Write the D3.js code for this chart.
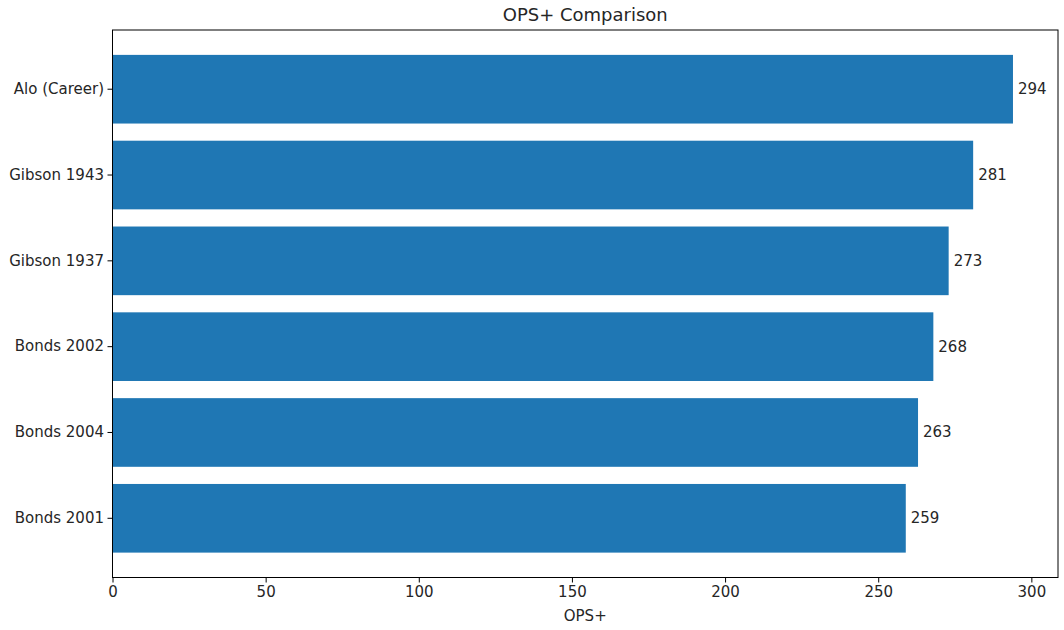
<!DOCTYPE html>
<html>
<head>
<meta charset="utf-8">
<script src="https://cdn.jsdelivr.net/npm/d3@7"></script>
<style>
  body { margin: 0; background: #fff; }
  svg text { font-family: "DejaVu Sans", sans-serif; }
</style>
</head>
<body>
<svg id="chart" width="1064" height="630"></svg>
<script>
/* OPS+ horizontal bar chart */
const players = ["Alo (Career)", "Gibson 1943", "Gibson 1937", "Bonds 2002", "Bonds 2004", "Bonds 2001"];
const opsPlus = [294, 281, 273, 268, 263, 259];
const xTicks = [0, 50, 100, 150, 200, 250, 300];

const svg = d3.select("svg#chart");
const plotLeft = 112.5, plotRight = 1058, plotTop = 30, plotBottom = 577.5;
const barColor = "#1f77b4";
const textColor = "#262626";
const fontFamily = "DejaVu Sans, sans-serif";
const tickFont = 15;

const x = d3.scaleLinear()
    .domain([0, d3.max(opsPlus) * 1.05])
    .range([plotLeft, plotRight]);

const y = d3.scaleBand()
    .domain(players)
    .range([plotTop, plotBottom])
    .paddingInner(0.2)
    .paddingOuter(0.29);

// bars
svg.selectAll("rect.bar")
    .data(players)
    .join("rect")
    .attr("class", "bar")
    .attr("x", x(0))
    .attr("y", (d) => y(d))
    .attr("width", (d, i) => x(opsPlus[i]) - x(0))
    .attr("height", y.bandwidth())
    .attr("fill", barColor);

// value labels
svg.selectAll("text.value")
    .data(players)
    .join("text")
    .attr("class", "value")
    .attr("x", (d, i) => x(opsPlus[i]) + 5)
    .attr("y", (d) => y(d) + y.bandwidth() / 2)
    .attr("dominant-baseline", "central")
    .style("font-size", tickFont + "px")
    .attr("fill", textColor)
    .text((d, i) => opsPlus[i]);

// frame
svg.append("rect")
    .attr("x", plotLeft)
    .attr("y", plotTop)
    .attr("width", plotRight - plotLeft)
    .attr("height", plotBottom - plotTop)
    .attr("fill", "none")
    .attr("stroke", "#000")
    .attr("stroke-width", 1);

// x axis
const xAxis = svg.append("g")
    .attr("transform", `translate(0, ${plotBottom})`)
    .call(d3.axisBottom(x).tickValues(xTicks).tickSize(5).tickPadding(4));
xAxis.attr("font-family", fontFamily).attr("font-size", tickFont);
xAxis.select(".domain").remove();
xAxis.selectAll("text").attr("fill", textColor);
xAxis.selectAll("line").attr("stroke", "#000");

// y axis
const yAxis = svg.append("g")
    .attr("transform", `translate(${plotLeft}, 0)`)
    .call(d3.axisLeft(y).tickSize(5).tickPadding(3.5));
yAxis.attr("font-family", fontFamily).attr("font-size", tickFont);
yAxis.select(".domain").remove();
yAxis.selectAll("text").attr("fill", textColor);
yAxis.selectAll("line").attr("stroke", "#000");

// title and label
svg.append("text")
    .attr("x", (plotLeft + plotRight) / 2)
    .attr("y", 21)
    .attr("text-anchor", "middle")
    .style("font-size", "18px")
    .attr("fill", textColor)
    .text("OPS+ Comparison");

svg.append("text")
    .attr("x", (plotLeft + plotRight) / 2)
    .attr("y", 621)
    .attr("text-anchor", "middle")
    .style("font-size", tickFont + "px")
    .attr("fill", textColor)
    .text("OPS+");
</script>
</body>
</html>
